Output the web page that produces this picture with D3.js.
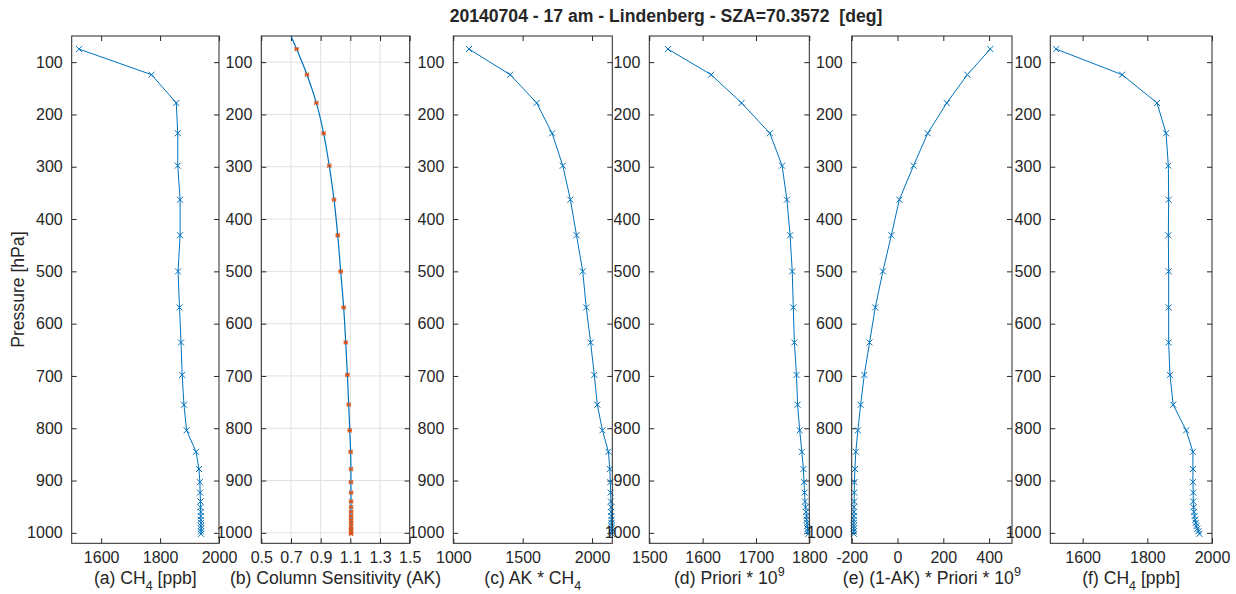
<!DOCTYPE html>
<html>
<head>
<meta charset="utf-8">
<script src="https://cdn.jsdelivr.net/npm/d3@7"></script>
<style>
  body { margin: 0; background: #fff; }
  text { font-family: "Liberation Sans", Arial, Helvetica, sans-serif; fill: #262626; }
</style>
</head>
<body>
<div id="plotRegi"></div>
<script>
/* Data */
// Pressure levels [hPa]
const pressure = [75, 124, 178, 236, 298, 363, 431, 500, 569, 636, 698, 755, 804, 845, 878,
  903, 923, 940, 951, 960, 968, 975, 981, 987, 992, 997, 1002]

// (a) retrieved CH4 [ppb]
const ch4 = [1525, 1771, 1855, 1860, 1860, 1868, 1868, 1861, 1866, 1871, 1875, 1881, 1890, 1922, 1932,
  1935, 1936, 1937, 1937, 1938, 1938, 1938, 1939, 1939, 1939, 1939, 1939]

// (b) column sensitivity
const ak = [0.738, 0.808, 0.871, 0.920, 0.958, 0.990, 1.015, 1.035, 1.055, 1.069, 1.080, 1.089, 1.096, 1.102, 1.104,
  1.104, 1.105, 1.105, 1.105, 1.105, 1.105, 1.105, 1.105, 1.105, 1.105, 1.105, 1.105]
// fine AK curve (blue line of panel b)
const akLineP = [50, 75, 124, 178, 236, 298, 363, 431, 500, 569, 636, 698, 755, 804, 845, 878, 903, 1002]
const akLineV = [0.700, 0.738, 0.808, 0.871, 0.920, 0.958, 0.990, 1.015, 1.035, 1.055, 1.069, 1.080, 1.089, 1.096, 1.102, 1.104, 1.104, 1.105]

// (c) AK * CH4
const akCh4 = [1113, 1410, 1601, 1712, 1789, 1844, 1888, 1933, 1958, 1990, 2016, 2038, 2075, 2118, 2128,
  2132, 2134, 2136, 2137, 2138, 2139, 2140, 2140, 2141, 2141, 2142, 2143]

// (d) priori * 1e9
const priori = [1535, 1616, 1673, 1726, 1749, 1758, 1764, 1768, 1770, 1772, 1776, 1778, 1782, 1786, 1789,
  1790, 1791, 1792, 1793, 1794, 1795, 1795, 1796, 1796, 1797, 1797, 1798]

// (e) (1-AK) * priori * 1e9
const oneMinusAk = [405, 305, 215, 132, 70, 8, -27, -64, -97, -122, -145, -161, -173, -182, -186,
  -188, -189, -189, -190, -190, -190, -191, -191, -191, -191, -191, -191]

// (f) smoothed CH4 [ppb]
const ch4Smooth = [1518, 1722, 1830, 1858, 1865, 1866, 1865, 1866, 1866, 1866, 1870, 1880, 1920, 1941, 1941,
  1941, 1942, 1942, 1943, 1944, 1946, 1948, 1950, 1952, 1955, 1958, 1961]

// Axis ticks
const yTicks = [100, 200, 300, 400, 500, 600, 700, 800, 900, 1000]
const ticksA = [1600, 1800, 2000]
const ticksB = [0.5, 0.7, 0.9, 1.1, 1.3, 1.5]
const ticksC = [1000, 1500, 2000]
const ticksD = [1500, 1600, 1700, 1800]
const ticksE = [-200, 0, 200, 400]
const ticksF = [1600, 1800, 2000]

const title = "20140704 - 17 am - Lindenberg - SZA=70.3572  [deg]"


/* Layout */
const W = 1236, H = 594
const yTop = 36, yBot = 543.3
const blue = "#0072BD", orange = "#D95319", ink = "#262626"

// label parts: [text, dy, size]
const panels = [
  { vals: ch4, dom: [1500, 2000], ticks: ticksA, x0: 71.7, x1: 219,
    label: [["(a) CH", 0], ["4", 6, "sub"], [" [ppb]", -6]] },
  { vals: ak, dom: [0.5, 1.5], ticks: ticksB, x0: 261.3, x1: 409.7, grid: true,
    label: [["(b) Column Sensitivity (AK)", 0]] },
  { vals: akCh4, dom: [1000, 2146], ticks: ticksC, x0: 453.3, x1: 612.3,
    label: [["(c) AK * CH", 0], ["4", 6, "sub"]] },
  { vals: priori, dom: [1500, 1800], ticks: ticksD, x0: 649.3, x1: 809.3,
    label: [["(d) Priori * 10", 0], ["9", -8, "sup"]] },
  { vals: oneMinusAk, dom: [-200, 500], ticks: ticksE, x0: 851.7, x1: 1012,
    label: [["(e) (1-AK) * Priori * 10", 0], ["9", -8, "sup"]] },
  { vals: ch4Smooth, dom: [1500, 2000], ticks: ticksF, x0: 1050.3, x1: 1212,
    label: [["(f) CH", 0], ["4", 6, "sub"], [" [ppb]", -6]] }
]

const svg = d3.select("#plotRegi")
  .append("svg")
  .attr("width", W)
  .attr("height", H)

const scale_y = d3.scaleLinear().domain([50, 1020]).range([yTop, yBot])

// Title
svg.append("text")
  .attr("x", 666)
  .attr("y", 22)
  .attr("text-anchor", "middle")
  .style("font-size", "17.6px")
  .style("font-weight", "bold")
  .style("white-space", "pre")
  .attr("xml:space", "preserve")
  .text(title)

// Y label
svg.append("text")
  .attr("transform", "translate(24," + (yTop + yBot) / 2 + ") rotate(-90)")
  .attr("text-anchor", "middle")
  .style("font-size", "17.6px")
  .text("Pressure [hPa]")

const xMark = "M-3,-3L3,3M-3,3L3,-3"
const starMark = "M-2,-2L2,2M-2,2L2,-2M-2.4,0L2.4,0"
const fmt = d => String(d)

panels.forEach((p, i) => {
  const scale_x = d3.scaleLinear().domain(p.dom).range([p.x0, p.x1])
  const g = svg.append("g").attr("id", "panel_" + i)

  // Grid (panel b only)
  if (p.grid) {
    g.selectAll(".gx").data(p.ticks).enter().append("line")
      .attr("x1", d => scale_x(d)).attr("x2", d => scale_x(d))
      .attr("y1", yTop).attr("y2", yBot)
      .style("stroke", "#e1e1e1").style("stroke-width", 1)
    g.selectAll(".gy").data(yTicks).enter().append("line")
      .attr("x1", p.x0).attr("x2", p.x1)
      .attr("y1", d => scale_y(d)).attr("y2", d => scale_y(d))
      .style("stroke", "#e1e1e1").style("stroke-width", 1)
  }

  // Axes (ticks pointing inward on all four sides)
  const axes = [
    [d3.axisLeft(scale_y).tickValues(yTicks).tickSize(-5).tickPadding(9), "translate(" + p.x0 + ",0)", true],
    [d3.axisRight(scale_y).tickValues(yTicks).tickSize(-5), "translate(" + p.x1 + ",0)", false],
    [d3.axisBottom(scale_x).tickValues(p.ticks).tickSize(-5).tickPadding(8), "translate(0," + yBot + ")", true],
    [d3.axisTop(scale_x).tickValues(p.ticks).tickSize(-5), "translate(0," + yTop + ")", false]
  ]
  axes.forEach(a => {
    const ax = g.append("g")
      .attr("transform", a[1])
      .call(a[0].tickSizeOuter(0).tickFormat(fmt))
    ax.select(".domain").remove()
    ax.selectAll("line").style("stroke", ink).style("stroke-width", 1)
    ax.selectAll("text")
      .style("font-size", "16px")
      .style("font-family", "'Liberation Sans', Arial, sans-serif")
      .style("fill", ink)
    if (!a[2]) ax.selectAll("text").remove()
  })

  // Data line
  if (p.grid) {
    const line_b = d3.line()
      .x((d, k) => scale_x(akLineV[k]))
      .y(d => scale_y(d))
      .curve(d3.curveMonotoneY)
    g.append("path")
      .datum(akLineP)
      .attr("d", line_b)
      .style("fill", "none")
      .style("stroke", blue)
      .style("stroke-width", 1.2)
  } else {
    const line = d3.line()
      .x((d, k) => scale_x(p.vals[k]))
      .y(d => scale_y(d))
    g.append("path")
      .datum(pressure)
      .attr("d", line)
      .style("fill", "none")
      .style("stroke", blue)
      .style("stroke-width", 1)
  }

  // Markers
  g.selectAll(".mk")
    .data(pressure)
    .enter()
    .append("path")
    .attr("transform", (d, k) => "translate(" + scale_x(p.vals[k]) + "," + scale_y(d) + ")")
    .attr("d", p.grid ? starMark : xMark)
    .style("fill", "none")
    .style("stroke", p.grid ? orange : blue)
    .style("stroke-width", p.grid ? 1.1 : 1)

  // Frame
  g.append("rect")
    .attr("x", p.x0)
    .attr("y", yTop)
    .attr("width", p.x1 - p.x0)
    .attr("height", yBot - yTop)
    .style("fill", "none")
    .style("stroke", ink)
    .style("stroke-width", 1)

  // X label with sub/superscripts
  const lab = g.append("text")
    .attr("x", (p.x0 + p.x1) / 2)
    .attr("y", 584)
    .attr("text-anchor", "middle")
    .style("font-size", "17.6px")
    .attr("xml:space", "preserve")
  p.label.forEach(part => {
    const t = lab.append("tspan").attr("dy", part[1]).text(part[0])
    if (part[2]) t.style("font-size", "12.5px")
  })
})
</script>
</body>
</html>
